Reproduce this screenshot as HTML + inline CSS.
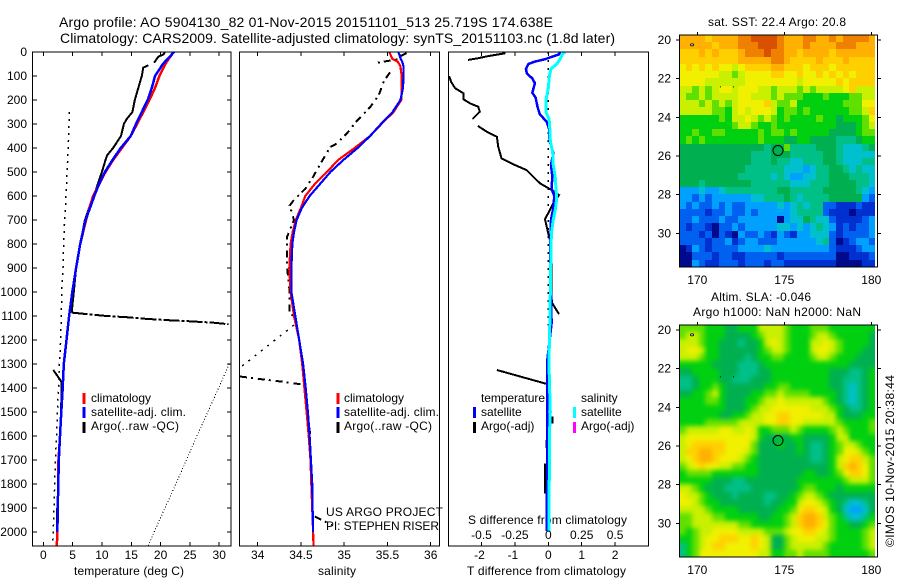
<!DOCTYPE html>
<html>
<head>
<meta charset="utf-8">
<title>Argo profile</title>
<style>
html,body{margin:0;padding:0;background:#fff;}
svg{display:block;}
text{font-family:"Liberation Sans",sans-serif;font-size:12px;fill:#000;}
.t14{font-size:14px;}
</style>
</head>
<body>
<svg id="chart" xmlns="http://www.w3.org/2000/svg" width="900" height="580" viewBox="0 0 900 580">
<defs>
<clipPath id="clipA"><rect x="33" y="52" width="198" height="494"/></clipPath>
<clipPath id="clipB"><rect x="240" y="52" width="199" height="494"/></clipPath>
<clipPath id="clipC"><rect x="449" y="52" width="199" height="494"/></clipPath>
<clipPath id="clipSla"><rect x="680" y="325" width="195" height="232"/></clipPath>
<filter id="slaSmooth" filterUnits="userSpaceOnUse" x="650" y="300" width="250" height="280" color-interpolation-filters="sRGB"><feGaussianBlur stdDeviation="2.4"/></filter>
</defs>
<text class="t14" x="59" y="27" textLength="494" lengthAdjust="spacing">Argo profile: AO 5904130_82 01-Nov-2015 20151101_513 25.719S 174.638E</text>
<text class="t14" x="60" y="43" textLength="555" lengthAdjust="spacing">Climatology: CARS2009. Satellite-adjusted climatology: synTS_20151103.nc (1.8d later)</text>
<text x="74" y="575" textLength="110" lengthAdjust="spacing">temperature (deg C)</text>
<text x="318" y="575" textLength="38" lengthAdjust="spacing">salinity</text>
<text x="467" y="575" textLength="159" lengthAdjust="spacing">T difference from climatology</text>
<text x="468" y="524" textLength="159" lengthAdjust="spacing">S difference from climatology</text>
<text x="326" y="516" textLength="117" lengthAdjust="spacing">US ARGO PROJECT</text>
<text x="326" y="530" textLength="113" lengthAdjust="spacing">PI: STEPHEN RISER</text>
<text x="91" y="402">climatology</text>
<text x="91" y="416" textLength="95" lengthAdjust="spacing">satellite-adj. clim.</text>
<text x="91" y="430" textLength="88" lengthAdjust="spacing">Argo(..raw -QC)</text>
<text x="344" y="402">climatology</text>
<text x="344" y="416" textLength="95" lengthAdjust="spacing">satellite-adj. clim.</text>
<text x="344" y="430" textLength="88" lengthAdjust="spacing">Argo(..raw -QC)</text>
<text x="481" y="402" textLength="64" lengthAdjust="spacing">temperature</text>
<text x="481" y="416">satellite</text>
<text x="481" y="430">Argo(-adj)</text>
<text x="581" y="402">salinity</text>
<text x="581" y="416">satellite</text>
<text x="581" y="430">Argo(-adj)</text>
<text x="708" y="26" textLength="138" lengthAdjust="spacing">sat. SST: 22.4 Argo: 20.8</text>
<text x="711" y="301" textLength="100" lengthAdjust="spacing">Altim. SLA: -0.046</text>
<text x="693" y="316" textLength="168" lengthAdjust="spacing">Argo h1000: NaN h2000: NaN</text>
<text transform="translate(894,547) rotate(-90)" textLength="172" lengthAdjust="spacing">©IMOS 10-Nov-2015 20:38:44</text>
</svg>
<script>
const depthTicks = [0,100,200,300,400,500,600,700,800,900,1000,1100,1200,1300,1400,1500,1600,1700,1800,1900,2000];
const tempTicks = [0,5,10,15,20,25,30];
const salTicks = [34,34.5,35,35.5,36];
const tDiffTicks = [-2,-1,0,1,2];
const sDiffTicks = [-0.5,-0.25,0,0.25,0.5];
const lonTicks = [170,175,180];
const latTicks = [20,22,24,26,28,30];

const climDepths = [0,50,100,150,200,250,300,350,400,450,500,550,600,650,700,800,900,1000,1100,1200,1300,1400,1500,1600,1700,1800,1900,2000,2058];
const climTemp = [22.2,20.8,19.8,19.05,18.1,17.05,16.0,14.9,13.4,11.9,10.6,9.55,8.5,7.85,7.3,6.3,5.6,4.95,4.4,3.95,3.5,3.3,3.07,2.85,2.6,2.55,2.45,2.4,2.3];
const satTemp = [22.3,20.4,19.05,18.5,17.8,16.8,15.8,14.9,13.2,11.8,10.5,9.5,8.7,7.96,7.2,6.3,5.6,4.95,4.4,3.95,3.5,3.3,3.07,2.85,2.65,2.55,2.45,2.4,null];

const argoTempDepths = [0,10,20,45,null,55,65,100,150,200,250,280,300,350,400,430,450,500,550,600,650,700,800,900,1000,1086,null,1325,1374,1480,1650,null,1900,2000];
const argoTemp = [20.75,20.5,19.6,18.9,null,17.9,17.05,16.8,16.2,15.6,15.2,14.2,13.75,13.25,11.9,10.9,10.6,10,9.3,8.65,7.8,7.1,6.3,5.6,5.2,4.85,null,1.7,3.1,3.05,2.75,null,2.3,2.3];
const spikeTempDepths = [1086,1092,1100,1105,1112,1118,1122,1128,1134];
const spikeTemp = [4.85,7.4,10.8,14.2,17.6,21.6,25,29,31.6];
const rawTempDepths = [250,400,500,600,700,800,900,1000,1100,1200,1300,1400,1500,1600,1700,1800,1900,2000,2058];
const rawTemp = [4.43,4.27,4.04,3.87,3.65,3.47,3.36,3.14,3.07,2.96,2.73,2.6,2.4,2.28,2.05,1.95,1.82,1.7,1.6];
const rawTempDeepDepths = [1300,1400,1500,1600,1700,1800,1900,2000,2058];
const rawTempDeep = [31.7,29.9,28.05,26.2,24.4,22.6,20.75,18.9,17.9];

const salDepths = [0,30,40,60,100,150,200,250,300,350,400,450,500,550,600,650,700,750,800,900,1000,1100,1200,1300,1400,1500,1600,1700,1800,1900,2000,2058];
const climSal = [35.52,35.56,35.62,35.65,35.665,35.665,35.66,35.57,35.43,35.3,35.12,34.93,34.8,34.66,34.55,34.5,34.44,34.405,34.38,34.365,34.38,34.42,34.48,34.515,34.54,34.565,34.59,34.61,34.62,34.63,34.64,34.645];
const satSal = [35.625,35.655,35.67,35.685,35.685,35.68,35.65,35.56,35.425,35.3,35.155,34.99,34.84,34.72,34.6,34.51,34.45,34.42,34.4,34.39,34.39,34.435,34.48,34.525,34.555,34.58,34.6,34.615,34.63,34.635,34.64,null];

const argoSalDepths = [5,15,30,45,null,85,120,180,230,290,340,385,395,450,520,570,620,640,700,770,900,1000,1040,1090,1100,null,1352,1363,1375,1387,1400,1500,1600,null,1936,1971];
const argoSal = [35.72,35.66,35.62,35.38,null,35.53,35.46,35.4,35.3,35.14,35.03,34.9,34.84,34.75,34.64,34.55,34.41,34.37,34.42,34.34,34.34,34.37,34.37,34.37,34.42,null,33.795,34.03,34.315,34.547,34.55,34.57,34.61,null,34.66,34.855];
const rawSalDepths = [1138,1314];
const rawSal = [34.42,33.8];

const tDiffDepths = [0,10,30,40,50,70,90,110,130,170,190,230,260,290,320,370,420,470,520,570,600,650,700,800,900,1000,1130,1285,1400,1700,1995];
const satTDiff = [0.35,0.32,-0.1,-0.4,-0.6,-0.67,-0.64,-0.48,-0.4,-0.48,-0.38,-0.32,-0.25,-0.05,0.02,0.04,0.15,0.08,0.12,0.1,0.18,0.15,0.08,0.06,0.06,0.08,0.1,-0.03,-0.03,-0.03,-0.05];
const sDiffDepths = [0,10,30,50,70,100,150,200,250,280,300,370,420,470,520,570,610,650,700,750,800,900,1000,1100,1200,1300,1400,1500,1600,2000];
const satSDiff = [0.125,0.105,0.088,0.063,0.02,0.008,0,-0.017,-0.017,0.005,0.01,0.015,0.033,0.037,0.052,0.058,0.063,0.055,0.037,0.025,0.02,0.018,0.015,0.013,0.008,0.005,0.01,0.015,0.008,0.006];
const argoTDiffDepths = [5,17,26,33,null,100,124,151,172,197,214,228,249,279,null,308,332,353,394,443,471,492,547,575,596,631,697,769,811,1026,1047,1092,null,1325,1383,null,1519,1547,null,1617,1651,null,1714,1839];
const argoTDiff = [-1.28,-1.8,-2.1,-2.4,null,-2.97,-2.91,-2.79,-2.54,-2.54,-2.34,-2.1,-2.05,-2.27,null,-2.11,-1.84,-1.54,-1.5,-1.4,-1,-0.65,-0.25,0.1,0.32,0.15,-0.1,0.02,0.1,0.1,0.12,0.32,null,-1.54,-0.05,null,0.12,0.12,null,-0.05,-0.05,null,-0.1,-0.1];
const zeroDotDepths = [0,1140];
const zeroDotDiff = [0,0];

const argoLon = [174.638];
const argoLat = [25.719];
const trackLon = [171.3,172.05];
const trackLat = [22.4,22.4];
const startLon = [169.7];
const startLat = [20.25];

const sstGrid = [
[12,12,12,12,11,12,12,12,12,13,13,14,14,14,14,13,12,12,12,13,13,12,12,13,12,13,13,13,13,12],
[12,12,12,12,12,11,12,12,12,13,13,13,14,14,14,13,12,12,12,13,12,12,12,12,13,13,13,12,12,12],
[11,11,11,12,11,12,11,11,11,12,13,13,13,14,13,13,12,12,11,12,12,12,12,11,12,12,12,12,12,12],
[11,11,11,11,11,11,11,11,11,12,12,12,12,12,13,13,12,11,11,11,11,12,11,11,11,12,11,11,11,11],
[10,11,10,11,10,11,10,10,9,10,11,11,11,11,12,12,11,11,11,10,11,11,11,10,11,11,11,11,11,11],
[10,10,10,10,10,10,9,9,8,9,10,10,10,10,11,11,10,10,11,10,10,11,10,11,10,11,10,11,11,11],
[10,10,10,10,9,9,9,9,9,9,10,10,10,10,10,10,10,10,9,10,10,10,10,10,11,10,11,11,11,11],
[9,9,8,9,8,9,10,10,9,10,10,10,9,9,8,9,9,9,8,9,8,9,9,9,9,10,11,9,9,9],
[9,8,8,9,8,9,9,9,9,10,10,9,9,9,8,9,8,8,8,7,7,7,8,7,7,7,8,8,9,9],
[9,9,9,8,9,8,9,8,9,10,10,10,10,11,9,8,8,9,7,7,7,7,7,7,7,8,8,8,10,10],
[9,9,9,9,9,8,8,7,9,10,9,10,10,10,9,7,8,8,7,8,7,7,7,7,7,7,8,8,9,11],
[7,7,7,7,7,7,8,7,9,9,10,9,8,9,8,7,8,7,7,7,7,8,7,7,6,7,7,7,8,10],
[7,7,7,7,7,7,7,7,8,9,9,8,7,7,8,7,7,7,7,7,7,7,7,7,6,6,6,7,8,9],
[7,7,8,7,7,8,8,7,7,7,7,7,8,7,8,8,7,8,7,7,7,7,7,6,6,6,6,7,8,8],
[7,8,7,8,7,7,7,7,7,7,7,7,8,7,7,7,6,6,7,7,6,6,6,6,5,5,5,6,7,7],
[6,6,6,6,6,6,6,6,6,6,6,6,6,5,6,6,8,5,5,5,5,6,6,6,5,4,4,4,5,6],
[6,6,6,6,6,6,6,6,6,6,6,5,5,5,6,6,6,5,5,5,5,5,6,6,5,4,4,4,4,4],
[6,6,6,6,6,6,6,6,6,6,6,5,5,5,6,5,5,4,4,5,5,5,6,6,5,4,4,4,5,5],
[6,6,6,6,6,6,6,6,6,6,5,5,5,5,5,5,4,4,4,3,4,5,5,6,6,5,4,5,4,4],
[6,6,6,6,6,6,6,6,6,5,5,5,5,5,4,5,4,3,3,4,4,5,5,6,6,6,5,5,5,4],
[6,6,6,5,6,6,6,6,6,6,6,5,5,5,5,5,5,4,4,4,5,5,5,6,6,6,6,5,5,4],
[3,3,3,4,3,3,4,5,5,5,5,5,5,5,5,6,6,5,5,5,5,5,6,6,6,6,6,5,4,3],
[3,3,2,3,2,3,3,3,3,3,3,4,4,5,5,5,6,5,4,5,5,5,5,6,6,6,6,6,3,2],
[3,2,3,2,2,3,2,3,2,2,3,3,3,3,3,4,3,4,5,4,5,5,2,2,1,1,1,2,1,1],
[2,2,2,2,1,2,2,3,2,2,3,2,3,3,3,3,3,4,5,5,5,5,2,1,1,1,0,1,1,1],
[2,2,3,2,2,2,3,2,2,3,3,3,3,3,3,0,3,4,4,6,5,4,4,2,1,1,1,1,2,3],
[2,1,2,2,1,0,2,2,3,2,3,3,3,3,3,4,4,3,4,3,4,5,4,3,1,2,1,2,2,3],
[2,2,2,1,2,0,2,1,0,3,2,2,3,2,1,3,2,1,3,3,4,4,4,2,1,2,2,2,2,3],
[2,2,2,2,1,2,2,3,1,2,3,3,2,2,2,3,3,3,3,3,3,4,5,2,0,1,2,3,3,2],
[0,1,3,2,1,2,2,2,2,3,3,3,3,4,3,3,3,3,3,3,3,3,3,2,1,1,1,2,3,3],
[0,0,2,2,2,1,2,2,1,1,2,2,2,2,2,1,2,2,2,2,2,2,2,2,0,0,1,1,1,2],
[0,0,3,2,1,1,2,2,2,1,2,2,2,1,2,2,1,1,1,1,1,1,1,1,0,0,0,0,1,1]
];
const slaGrid = [
[8,8,8,8,7,7,7,6,6,7,7,7,9,9,9,9,8,7,7,7,8,8,8,7,7,7,7,7,7,7],
[8,9,9,8,7,7,7,6,6,6,6,7,8,9,9,9,8,7,7,7,8,9,9,8,7,7,7,7,7,6],
[9,9,9,8,7,7,6,6,6,5,6,6,7,9,10,9,8,7,7,7,9,9,10,9,8,7,7,7,7,6],
[9,10,10,9,7,7,6,6,6,6,6,6,7,8,9,9,8,7,7,7,9,10,10,9,8,7,7,7,6,6],
[9,9,9,8,7,7,6,6,6,6,5,6,7,7,8,8,7,7,7,7,8,9,9,8,7,7,7,6,6,6],
[7,7,7,7,7,6,6,6,6,5,5,5,6,7,7,7,7,7,7,7,7,7,7,7,7,7,6,6,6,6],
[6,6,7,7,7,7,6,6,6,5,5,5,6,6,7,7,7,7,7,7,7,7,7,6,6,6,5,5,6,7],
[5,5,6,7,7,7,6,6,5,5,5,6,6,6,7,7,7,7,7,7,7,7,7,6,6,5,5,5,6,7],
[5,5,6,7,7,8,7,6,6,6,6,6,6,7,7,8,8,7,7,7,7,7,7,6,6,5,4,5,6,7],
[6,6,7,7,8,9,7,6,6,6,6,7,7,8,8,9,8,8,8,8,7,7,7,7,6,5,4,5,6,7],
[7,7,7,7,8,8,7,6,6,6,7,7,8,9,9,10,9,9,9,9,9,9,8,7,6,5,4,5,6,7],
[7,7,7,7,7,7,7,6,6,6,7,8,9,9,10,10,10,10,10,10,9,9,9,8,7,6,5,5,6,7],
[7,7,7,7,7,7,6,6,7,7,8,9,9,10,10,11,11,10,10,10,10,10,9,9,7,6,6,6,7,7],
[7,7,7,7,8,8,8,8,8,9,9,9,9,10,10,11,11,10,10,9,9,9,9,9,8,7,7,7,7,8],
[8,9,9,9,9,9,10,10,9,9,10,9,7,7,8,8,8,9,8,7,7,7,7,8,9,8,7,7,7,8],
[9,10,10,10,10,10,10,10,10,10,10,9,7,6,6,6,6,7,7,6,6,6,6,7,9,9,7,7,7,7],
[9,10,11,11,11,11,11,10,10,10,10,8,6,6,6,7,6,6,7,6,5,5,6,7,8,9,9,8,7,7],
[9,11,11,12,12,11,11,10,10,10,9,8,6,6,6,6,6,6,7,6,5,5,6,7,8,10,10,9,8,7],
[9,10,11,12,12,11,10,10,10,9,8,7,6,6,6,6,6,6,6,6,5,5,6,7,9,10,11,11,9,8],
[8,9,10,11,10,10,9,9,8,8,7,7,6,6,6,6,6,6,6,6,6,6,6,7,9,11,12,11,10,8],
[7,8,8,8,8,7,7,7,7,7,7,7,6,6,6,6,6,6,6,7,7,6,6,7,8,10,11,11,10,8],
[7,7,7,7,7,6,6,6,5,5,6,6,6,6,6,6,6,6,7,7,7,7,7,7,7,8,9,9,9,8],
[9,9,8,7,6,6,6,5,5,5,5,6,6,6,6,6,6,6,7,8,8,7,7,7,6,7,7,7,7,7],
[10,9,9,8,7,6,6,6,5,6,6,6,6,5,5,6,6,7,8,9,9,8,7,6,6,6,6,6,6,6],
[10,10,9,8,7,7,6,6,6,6,6,6,6,5,6,6,7,7,9,10,10,9,8,7,6,5,4,4,5,6],
[9,9,9,9,8,7,7,7,7,6,6,6,6,6,6,7,7,8,10,11,11,10,9,7,6,4,3,3,4,6],
[8,8,9,9,9,8,8,7,7,7,7,7,6,6,7,7,8,9,11,12,12,11,9,8,7,5,4,4,5,7],
[8,8,9,9,9,9,9,9,9,8,8,7,7,7,7,7,8,9,11,12,12,11,10,8,7,7,6,6,7,8],
[8,7,8,9,9,10,10,10,10,9,9,9,9,8,8,8,9,10,10,11,11,10,9,8,7,7,7,7,8,9],
[7,7,8,9,10,10,11,11,11,10,10,11,10,9,6,6,8,9,10,10,10,9,9,8,7,7,7,7,8,9],
[5,7,8,9,10,11,11,10,10,10,10,11,10,9,6,6,8,9,9,9,9,9,8,7,7,7,7,7,8,9],
[5,7,8,10,10,10,10,10,10,10,10,10,9,9,7,7,8,8,9,8,8,8,8,7,7,7,7,7,7,8]
];
const levelColors = ['#000a8c','#0030d0','#0060f0','#00a0ff','#00c0d0','#00c088','#00b050','#00d010','#60e000','#c8f000','#f0f000','#ffd000','#ffb000','#f08000','#d85000'];

const svg = document.getElementById('chart');
const NS = 'http://www.w3.org/2000/svg';
const depthY = d => 52 + 0.24 * d;
const tempX = v => 43.3 + 5.864 * v;
const salX = v => 257.7 + 86.5 * (v - 34);
const tDiffX = v => 548.3 + 33.4 * v;
const sDiffX = v => 548.3 + 133.6 * v;
const lonX = v => 697.3 + 17.4 * (v - 170);
const latY1 = v => 40 + 19.33 * (v - 20);
const latY2 = v => 330 + 19.33 * (v - 20);
const lon0 = 168.97, lat0 = 19.74, cellDeg = 0.375;
let target = svg;

function make(tag, attrs, name) {
  const el = document.createElementNS(NS, tag);
  for (const k in attrs) el.setAttribute(k, attrs[k]);
  
  
  target.appendChild(el);
  return el;
}
function label(x, y, str, anchor, name) {
  const el = make('text', {x: x, y: y, 'text-anchor': anchor}, name);
  el.textContent = str;
}
function seg(x1, y1, x2, y2, name) {
  make('line', {x1: x1, y1: y1, x2: x2, y2: y2, stroke: '#000', 'stroke-width': 1, 'shape-rendering': 'crispEdges'}, name);
}
function series(xs, ds, xf, color, width, clip, name, dash) {
  let p = '', pen = false;
  xs.forEach((v, i) => {
    if (v === null || ds[i] === null) { pen = false; return; }
    p += (pen ? 'L' : 'M') + xf(v).toFixed(1) + ' ' + depthY(ds[i]).toFixed(1);
    pen = true;
  });
  const a = {d: p, fill: 'none', stroke: color, 'stroke-width': width, 'clip-path': 'url(#' + clip + ')', 'shape-rendering': 'crispEdges'};
  if (dash) a['stroke-dasharray'] = dash;
  make('path', a, name);
}
function box(x, y, w, h, name) {
  make('rect', {x: x, y: y, width: w, height: h, fill: 'none', stroke: '#000', 'stroke-width': 1, 'shape-rendering': 'crispEdges'}, name);
}
function bar(x, y, color, name) {
  make('rect', {x: x, y: y, width: 3, height: 11, fill: color, 'shape-rendering': 'crispEdges'}, name);
}

/* temperature panel */
series(argoTemp, argoTempDepths, tempX, '#000', 2, 'clipA', 'argo-temperature-line');
series(spikeTemp, spikeTempDepths, tempX, '#000', 2, 'clipA', 'argo-temperature-spike', '16 2 3 2');
series(rawTemp, rawTempDepths, tempX, '#000', 1.5, 'clipA', 'raw-temperature-dots', '2 5');
series(rawTempDeep, rawTempDeepDepths, tempX, '#000', 1, 'clipA', 'raw-temperature-deep-dots', '1 2');
series(climTemp, climDepths, tempX, '#ff0000', 2.5, 'clipA', 'climatology-temperature-line');
series(satTemp, climDepths, tempX, '#0000ff', 2.5, 'clipA', 'satellite-temperature-line');
box(32.5, 52, 198.5, 494, 'temperature-panel');
depthTicks.forEach(d => {
  seg(33, depthY(d), 37, depthY(d), 'depth-tick-left');
  seg(227, depthY(d), 231, depthY(d), 'depth-tick-right');
  label(27, depthY(d) + 4, String(d), 'end', 'depth-tick-label');
});
tempTicks.forEach(v => {
  seg(tempX(v), 52, tempX(v), 56, 'temperature-tick-top');
  seg(tempX(v), 542, tempX(v), 546, 'temperature-tick-bottom');
  label(tempX(v), 559, String(v), 'middle', 'temperature-tick-label');
});
bar(82.5, 393, '#ff0000', 'legend-bar-climatology-temp');
bar(82.5, 407, '#0000ff', 'legend-bar-satellite-temp');
bar(82.5, 422, '#000', 'legend-bar-argo-temp');

/* salinity panel */
series(argoSal, argoSalDepths, salX, '#000', 2, 'clipB', 'argo-salinity-line', '7 4 2 5');
series(rawSal, rawSalDepths, salX, '#000', 1.5, 'clipB', 'raw-salinity-dots', '2 6');
series(climSal, salDepths, salX, '#ff0000', 2.2, 'clipB', 'climatology-salinity-line');
series(satSal, salDepths, salX, '#0000ff', 2.2, 'clipB', 'satellite-salinity-line');
box(239.5, 52, 200, 494, 'salinity-panel');
salTicks.forEach(v => {
  seg(salX(v), 52, salX(v), 56, 'salinity-tick-top');
  seg(salX(v), 542, salX(v), 546, 'salinity-tick-bottom');
  label(salX(v), 559, String(v), 'middle', 'salinity-tick-label');
});
bar(336.5, 393, '#ff0000', 'legend-bar-climatology-sal');
bar(336.5, 407, '#0000ff', 'legend-bar-satellite-sal');
bar(336.5, 422, '#000', 'legend-bar-argo-sal');

/* difference panel */
series(zeroDotDiff, zeroDotDepths, tDiffX, '#000', 1.5, 'clipC', 'zero-difference-dots', '2 6');
series(argoTDiff, argoTDiffDepths, tDiffX, '#000', 2, 'clipC', 'argo-t-difference-line');
series(satTDiff, tDiffDepths, tDiffX, '#0000ff', 2.5, 'clipC', 'satellite-t-difference-line');
series(satSDiff, sDiffDepths, sDiffX, '#00ffff', 3, 'clipC', 'satellite-s-difference-line');
box(448.5, 52, 200, 494, 'difference-panel');
tDiffTicks.forEach(v => {
  seg(tDiffX(v), 52, tDiffX(v), 56, 'difference-tick-top');
  seg(tDiffX(v), 542, tDiffX(v), 546, 'difference-tick-bottom');
  label(tDiffX(v) - (v < 0 ? 2 : 0), 559, String(v), 'middle', 't-difference-tick-label');
});
sDiffTicks.forEach(v => {
  label(sDiffX(v), 539, String(v), 'middle', 's-difference-tick-label');
});
bar(473, 407, '#0000ff', 'legend-bar-satellite-tdiff');
bar(473, 422, '#000', 'legend-bar-argo-tdiff');
bar(573, 407, '#00ffff', 'legend-bar-satellite-sdiff');
bar(573, 422, '#ff00ff', 'legend-bar-argo-sdiff');

/* maps */
function heatmap(grid, latY, name, bleed) {
  grid.forEach((row, j) => {
    row.forEach((lev, i) => {
      let x0 = Math.round(lonX(lon0 + i * cellDeg));
      let x1 = Math.round(lonX(lon0 + (i + 1) * cellDeg));
      let y0 = Math.round(latY(lat0 + j * cellDeg));
      let y1 = Math.round(latY(lat0 + (j + 1) * cellDeg));
      if (bleed) {
        if (i === 0) x0 -= bleed;
        if (i === row.length - 1) x1 += bleed;
        if (j === 0) y0 -= bleed;
        if (j === grid.length - 1) y1 += bleed;
      }
      make('rect', {x: x0, y: y0, width: x1 - x0, height: y1 - y0, fill: levelColors[lev], 'shape-rendering': 'crispEdges'}, name);
    });
  });
}
function mapFrame(latY, top, bottom, labelBase, frameName) {
  box(679.5, top, 198, bottom - top, frameName);
  lonTicks.forEach(v => {
    seg(lonX(v), top - 3, lonX(v), top, 'longitude-tick');
    label(lonX(v), labelBase, String(v), 'middle', 'longitude-tick-label');
  });
  latTicks.forEach(v => {
    seg(676, latY(v), 680, latY(v), 'latitude-tick-left');
    seg(877, latY(v), 881, latY(v), 'latitude-tick-right');
    label(671, latY(v) + 4, String(v), 'end', 'latitude-tick-label');
  });
  argoLon.forEach((lon, i) => {
    make('circle', {cx: lonX(lon), cy: latY(argoLat[i]), r: 5, fill: 'none', stroke: '#000', 'stroke-width': 1}, 'argo-position-marker');
  });
  trackLon.forEach((lon, i) => {
    make('rect', {x: lonX(lon), y: latY(trackLat[i]), width: 1, height: 1, fill: '#000'}, 'track-dot');
  });
  startLon.forEach((lon, i) => {
    make('ellipse', {cx: lonX(lon), cy: latY(startLat[i]), rx: 1.6, ry: 1, fill: '#fff', stroke: '#000', 'stroke-width': 0.8}, 'track-start-marker');
  });
}
heatmap(sstGrid, latY1, 'sst-cell', 0);
mapFrame(latY1, 35, 267, 284, 'sst-map-frame');
const slaClip = make('g', {'clip-path': 'url(#clipSla)'}, 'sla-map-clip');
target = slaClip;
const slaBlur = make('g', {filter: 'url(#slaSmooth)'}, 'sla-field');
target = slaBlur;
heatmap(slaGrid, latY2, 'sla-cell', 12);
target = svg;
mapFrame(latY2, 325, 557, 574, 'sla-map-frame');
</script>
</body>
</html>
